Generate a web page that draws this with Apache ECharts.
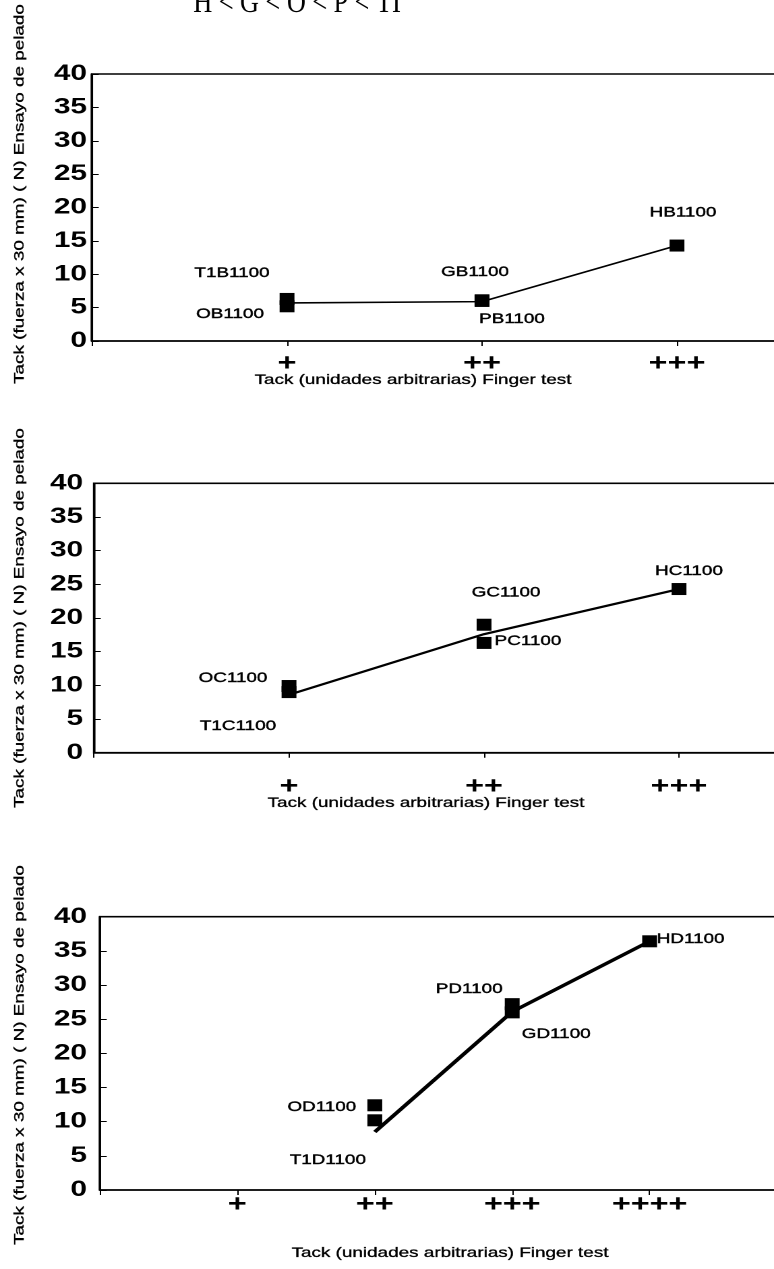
<!DOCTYPE html>
<html>
<head>
<meta charset="utf-8">
<title>Tack: ensayo de pelado vs finger test</title>
<script src="https://cdn.jsdelivr.net/npm/echarts@6/dist/echarts.min.js"></script>
<style>
  html, body { margin: 0; padding: 0; background: #fff; overflow: hidden; }
  #wrap { width: 774px; height: 1269px; overflow: hidden; position: relative; }
  /* the chart is laid out narrow and widened horizontally, giving the wide lettering */
  #chart { width: 574px; height: 1269px; transform-origin: 0 0; }
</style>
</head>
<body>
<div id="wrap"><div id="chart"></div></div>
<script>
// Finger-test levels (x positions 0..5)
const tackLevels = ['', '+', '++', '+++', '++++', ''];

// Series B (1100)
const samplesB = ['T1B1100', 'OB1100', 'GB1100', 'PB1100', 'HB1100'];
const levelB   = [1, 1, 2, 2, 3];
const peelB    = [6.3, 5.2, 6.1, 6.0, 14.3];
const trendLevelB = [1, 2, 3];
const trendB      = [5.7, 5.9, 14.3];

// Series C (1100)
const samplesC = ['OC1100', 'T1C1100', 'GC1100', 'PC1100', 'HC1100'];
const levelC   = [1, 1, 2, 2, 3];
const peelC    = [9.9, 9.0, 19.0, 16.3, 24.3];
const trendLevelC = [1, 2, 3];
const trendC      = [8.6, 17.6, 24.3];

// Series D (1100)
const samplesD = ['OD1100', 'T1D1100', 'PD1100', 'GD1100', 'HD1100'];
const levelD   = [2, 2, 3, 3, 4];
const peelD    = [12.4, 10.2, 27.2, 26.0, 36.4];
const trendLevelD = [2, 3, 4];
const trendD      = [8.5, 26.1, 36.4];

const rankingText = 'H < G < O < P < TI';
const yTitle = 'Tack (fuerza x 30 mm) ( N) Ensayo de pelado';
const xTitle = 'Tack (unidades arbitrarias) Finger test';

// ---- layout / style (screen px, before the horizontal widening) ----
const S = 774 / 574;                      // horizontal widening factor
document.getElementById('chart').style.transform = 'scaleX(' + S + ')';

const FONT = '"Liberation Sans", Arial, sans-serif';
const INK = '#000';

// label placement around each marker (screen px after widening)
const labelOffsets = {
  T1B1100: [-55, -26], OB1100: [-57, 8], GB1100: [-7, -28], PB1100: [30, 18], HB1100: [6, -33],
  OC1100: [-56, -8], T1C1100: [-51, 34], GC1100: [22, -32], PC1100: [44, -2], HC1100: [10, -18],
  OD1100: [-53, 2], T1D1100: [-47, 40], PD1100: [-43, -15], GD1100: [44, 22], HD1100: [41, -2]
};

const panels = [
  { samples: samplesB, level: levelB, peel: peelB, tl: trendLevelB, tv: trendB,
    grid: { left: 92, top: 74, width: 780, height: 267 }, xMax: 4,
    yMargin: 5, xMargin: 11, lineW: 1.6,
    xTitlePos: [413, 380], yTitlePos: [20, 194] },
  { samples: samplesC, level: levelC, peel: peelC, tl: trendLevelC, tv: trendC,
    grid: { left: 94, top: 483.3, width: 780, height: 269.4 }, xMax: 4,
    yMargin: 11, xMargin: 22, lineW: 2.2,
    xTitlePos: [426, 803], yTitlePos: [20, 618] },
  { samples: samplesD, level: levelD, peel: peelD, tl: trendLevelD, tv: trendD,
    grid: { left: 100, top: 916.7, width: 687, height: 273.3 }, xMax: 5,
    yMargin: 13, xMargin: 3, lineW: 3.2,
    xTitlePos: [450, 1253], yTitlePos: [20, 1055] }
];

const grids = [], xAxes = [], yAxes = [], series = [], graphics = [];

panels.forEach((p, i) => {
  grids.push({
    left: p.grid.left / S, top: p.grid.top, width: p.grid.width / S, height: p.grid.height,
    show: true, borderColor: INK, borderWidth: 1.6, backgroundColor: 'transparent',
    containLabel: false, outerBoundsMode: 'none'
  });
  xAxes.push({
    type: 'value', gridIndex: i, min: 0, max: p.xMax, interval: 1,
    axisLine: { show: true, onZero: false, lineStyle: { color: INK, width: 1.6 } },
    axisTick: { show: true, length: 5, lineStyle: { color: INK, width: 1 } },
    splitLine: { show: false },
    axisLabel: {
      formatter: v => tackLevels[v] || '',
      color: INK, fontFamily: FONT, fontWeight: 'bold', fontSize: 24, margin: p.xMargin
    }
  });
  yAxes.push({
    type: 'value', gridIndex: i, min: 0, max: 40, interval: 5,
    axisLine: { show: true, onZero: false, lineStyle: { color: INK, width: 1.6 } },
    axisTick: { show: true, inside: true, length: 5, lineStyle: { color: INK, width: 1 } },
    splitLine: { show: false },
    axisLabel: { color: INK, fontFamily: FONT, fontWeight: 'bold', fontSize: 22, margin: p.yMargin / S }
  });

  series.push({
    type: 'line', xAxisIndex: i, yAxisIndex: i, z: 3,
    data: p.tl.map((l, k) => [l, p.tv[k]]),
    symbol: 'none', lineStyle: { color: INK, width: p.lineW }, silent: true
  });
  series.push({
    type: 'scatter', xAxisIndex: i, yAxisIndex: i, z: 2,
    symbol: 'rect', symbolSize: [11, 12],
    itemStyle: { color: '#000', opacity: 1 },
    label: {
      show: true, position: 'inside', formatter: '{b}',
      color: INK, fontFamily: FONT, fontSize: 14,
      textBorderColor: INK, textBorderWidth: 0.4
    },
    data: p.samples.map((name, k) => ({
      name: name,
      value: [p.level[k], p.peel[k]],
      label: { offset: [labelOffsets[name][0] / S, labelOffsets[name][1]] }
    })),
    silent: true
  });

  // axis titles
  graphics.push({
    type: 'text', x: p.xTitlePos[0] / S, y: p.xTitlePos[1],
    style: { text: xTitle, fill: INK, fontFamily: FONT, fontSize: 14, align: 'center', verticalAlign: 'middle',
             stroke: INK, lineWidth: 0.3 }
  });
  graphics.push({
    type: 'text', x: p.yTitlePos[0] / S, y: p.yTitlePos[1],
    rotation: Math.PI / 2, scaleX: S, scaleY: 1 / S,
    style: { text: yTitle, fill: INK, fontFamily: FONT, fontSize: 14, align: 'center', verticalAlign: 'middle',
             stroke: INK, lineWidth: 0.3 }
  });
});

// ranking line at the top
graphics.push({
  type: 'text', x: 297 / S, y: 3.5, scaleX: 0.607,
  style: { text: rankingText, fill: INK, fontFamily: '"Liberation Serif", "DejaVu Serif", serif',
           fontSize: 32, align: 'center', verticalAlign: 'middle' }
});

const chart = echarts.init(document.getElementById('chart'), null, { devicePixelRatio: 2 });
chart.setOption({
  backgroundColor: '#fff',
  animation: false,
  grid: grids,
  xAxis: xAxes,
  yAxis: yAxes,
  series: series,
  graphic: { elements: graphics }
});
</script>
</body>
</html>
